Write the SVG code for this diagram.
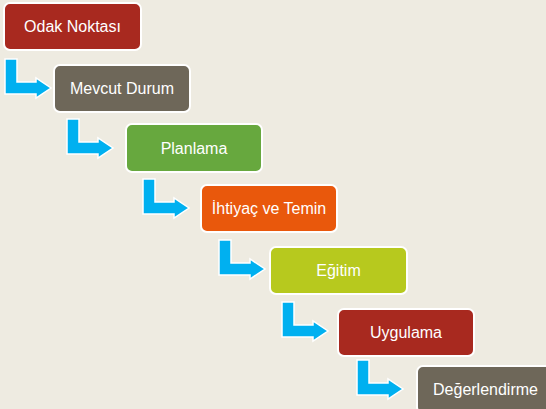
<svg xmlns="http://www.w3.org/2000/svg" xmlns:xlink="http://www.w3.org/1999/xlink" width="546" height="409" viewBox="0 0 546 409">
<defs>
<style>
.box{stroke:#FFFFFF;stroke-width:2;}
.lbl{font-family:"Liberation Sans",Arial,sans-serif;font-size:16px;fill:#FFFFFF;text-anchor:middle;}
.arr{fill:#00B0F0;stroke:#FFFFFF;stroke-width:1.5;stroke-linejoin:miter;}
</style>
<path id="bent" class="arr" d="M0,0 h12 v23 h19 v-4 l15,10 l-15,10 v-4 h-31 z"/>
</defs>
<rect x="0" y="0" width="546" height="409" fill="#EEEBE1"/>
<g id="connectors">
<use xlink:href="#bent" href="#bent" transform="translate(5,59)"/>
<use xlink:href="#bent" href="#bent" transform="translate(67,119)"/>
<use xlink:href="#bent" href="#bent" transform="translate(143,179)"/>
<use xlink:href="#bent" href="#bent" transform="translate(219,240)"/>
<use xlink:href="#bent" href="#bent" transform="translate(282,302)"/>
<use xlink:href="#bent" href="#bent" transform="translate(357,360)"/>
</g>
<g id="n1"><rect class="box" x="4" y="3" width="137" height="47" rx="6" fill="#A8291F"/><text class="lbl" x="72.5" y="32">Odak Noktası</text></g>
<g id="n2"><rect class="box" x="54" y="65" width="136" height="47" rx="6" fill="#6E6759"/><text class="lbl" x="122" y="94">Mevcut Durum</text></g>
<g id="n3"><rect class="box" x="126" y="124" width="136" height="48" rx="6" fill="#67A83E"/><text class="lbl" x="194" y="153.5">Planlama</text></g>
<g id="n4"><rect class="box" x="201" y="185" width="136" height="47" rx="6" fill="#E9580C"/><text class="lbl" x="269" y="214">İhtiyaç ve Temin</text></g>
<g id="n5"><rect class="box" x="270" y="247" width="137" height="47" rx="6" fill="#B7C91E"/><text class="lbl" x="338.5" y="276">Eğitim</text></g>
<g id="n6"><rect class="box" x="338" y="309" width="136" height="47" rx="6" fill="#A8291F"/><text class="lbl" x="406" y="338">Uygulama</text></g>
<g id="n7"><rect class="box" x="417" y="366" width="137" height="47" rx="6" fill="#6E6759"/><text class="lbl" x="485.5" y="395">Değerlendirme</text></g>
</svg>
